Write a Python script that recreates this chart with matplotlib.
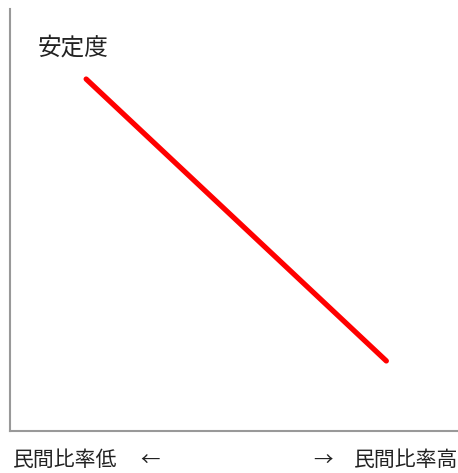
import matplotlib.pyplot as plt

plt.rcParams['font.family'] = ['Noto Sans CJK JP', 'DejaVu Sans']

# stability falls as the private share rises
share = [0.17, 0.84]
stability = [0.834, 0.166]
y_label = '安定度'
low_label = '民間比率低'
high_label = '民間比率高'

W, H = 458, 473
fig = plt.figure(figsize=(W / 100, H / 100), dpi=100)
ax = fig.add_axes([10 / W, 42 / H, 448 / W, 422 / H])
ax.plot(share, stability, color='#ff0000', lw=3.8, solid_capstyle='round')
ax.set_xlim(0, 1)
ax.set_ylim(0, 1)
ax.set_xticks([])
ax.set_yticks([])
for s in ['top', 'right']:
    ax.spines[s].set_visible(False)
for s in ['left', 'bottom']:
    ax.spines[s].set_color('#999999')
    ax.spines[s].set_linewidth(1.5)

fig.text(38 / W, 1 - 48 / H, y_label, fontsize=17, va='center', ha='left', color='#222222')
fig.text(13 / W, 1 - 460 / H, low_label, fontsize=15, va='center', ha='left', color='#222222')
fig.text(140 / W, 1 - 460 / H, '←', fontsize=14, va='center', ha='left', color='#222222')
fig.text(333 / W, 1 - 460 / H, '→', fontsize=14, va='center', ha='right', color='#222222')
fig.text(458 / W, 1 - 460 / H, high_label, fontsize=15, va='center', ha='right', color='#222222')

fig.savefig('out.png', dpi=100)
